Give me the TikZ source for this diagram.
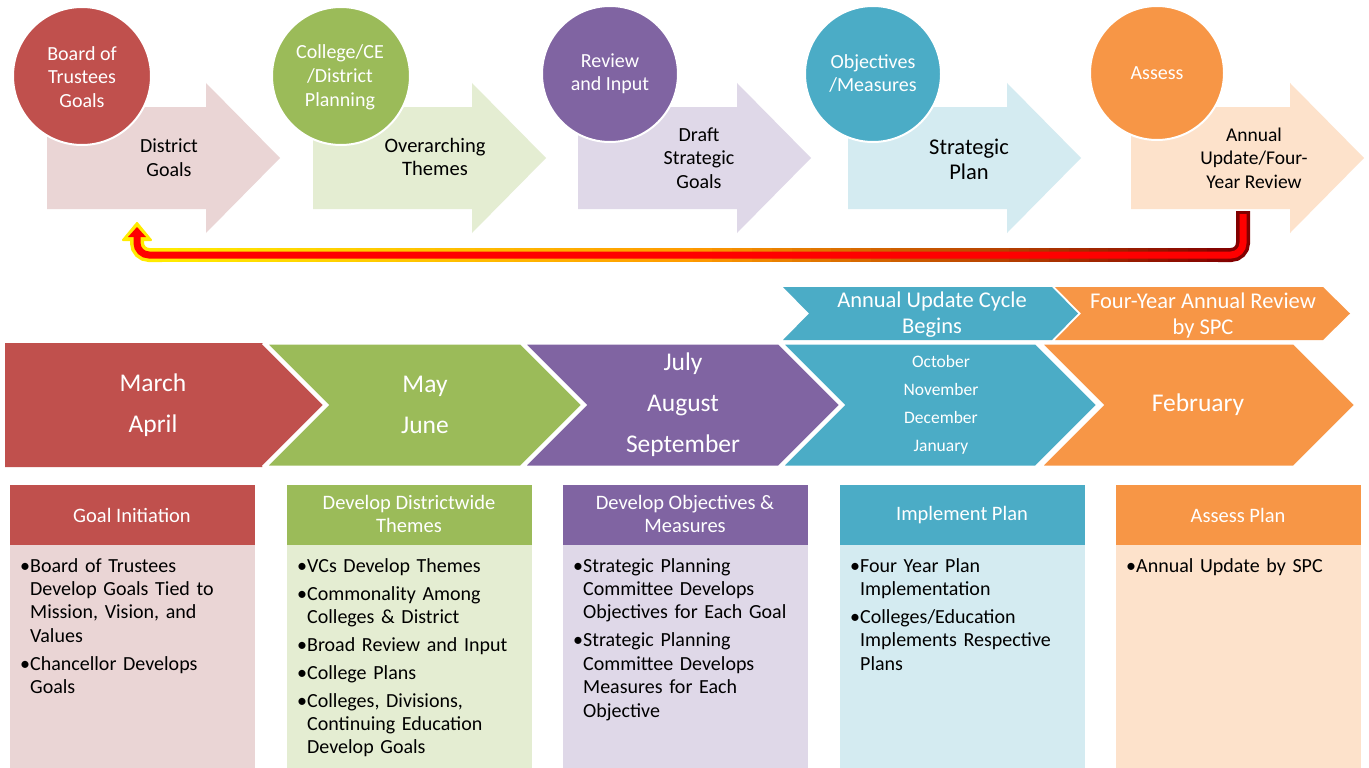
\documentclass[tikz,border=0pt]{standalone}
\usepackage{fontspec}
\setmainfont{Carlito}
\usetikzlibrary{calc}
\definecolor{cR}{HTML}{C0504D}
\definecolor{cG}{HTML}{9BBB59}
\definecolor{cP}{HTML}{8064A2}
\definecolor{cT}{HTML}{4BACC6}
\definecolor{cO}{HTML}{F79646}
\definecolor{lcR}{RGB}{234,213,213}
\colorlet{lcG}{cG!27!white}
\colorlet{lcP}{cP!25!white}
\colorlet{lcT}{cT!24!white}
\colorlet{lcO}{cO!28!white}
\definecolor{ylw}{RGB}{255,235,0}
\definecolor{org}{RGB}{255,155,0}
\definecolor{drd}{RGB}{130,0,0}
\newlength\bulwd
\newcommand\bitem{\par\settowidth{\bulwd}{•}\hangindent=\bulwd\hangafter=1\noindent•}
\tikzset{
  circtext/.style={white, align=center, inner sep=0, font=\fontsize{20}{23.5}\selectfont},
  arrtext/.style={black, align=center, inner sep=0, font=\fontsize{20}{24}\selectfont},
  bigmonth/.style={white, align=center, inner sep=0, font=\fontsize{25.5}{41}\selectfont},
  smallmonth/.style={white, align=center, inner sep=0, font=\fontsize{17.5}{28}\selectfont},
  chevtext/.style={white, align=center, inner sep=0, font=\fontsize{22.5}{26}\selectfont},
  headtext/.style={white, align=center, inner sep=0, font=\fontsize{20.5}{23}\selectfont},
  bodytext/.style={black, align=left, inner sep=0, anchor=north west, text width=232pt,
     font=\fontsize{20}{23.4}\selectfont},
  chevron/.style={draw=white, line width=3pt, line join=miter},
  stage/.style={draw=white, line width=2pt},
}
\begin{document}
\begin{tikzpicture}[x=1pt,y=-1pt]
\useasboundingbox (0,0) rectangle (1369,768);
\fill[white] (0,0) rectangle (1369,768);

% ---------- top row arrows ----------
\foreach \xl/\lc in {47/lcR,313/lcG,578/lcP,848/lcT,1131/lcO}{
  \fill[\lc] (\xl,107) -- (\xl+159,107) -- (\xl+159,83) -- (\xl+233,158)
     -- (\xl+159,233) -- (\xl+159,209) -- (\xl,209) -- cycle;
}
\node[arrtext] (a1) at (169,158) {District\\Goals};
\node[arrtext, font=\fontsize{20.5}{22.5}\selectfont] (a2) at (435,157) {Overarching\\Themes};
\node[arrtext, font=\fontsize{20}{23.5}\selectfont] (a3) at (699,158) {Draft\\Strategic\\Goals};
\node[arrtext, font=\fontsize{22.5}{25}\selectfont] (a4) at (969,159) {Strategic\\Plan};
\node[arrtext, font=\fontsize{19.5}{23.5}\selectfont] (a5) at (1254,158) {Annual\\Update/Four-\\Year Review};

% ---------- circles ----------
\fill[cR, stage] (82,76) circle (69);
\fill[cG, stage] (341,76) circle (69);
\fill[cP, stage] (610,74) circle (68);
\fill[cT, stage] (873,74) circle (68);
\fill[cO, stage] (1157,73) circle (67);
\node[circtext] (c1) at (82,77) {Board of\\Trustees\\Goals};
\node[circtext, font=\fontsize{20}{24}\selectfont] (c2) at (340,77) {College/CE\\/District\\Planning};
\node[circtext] (c3) at (610,73.5) {Review\\and Input};
\node[circtext] (c4) at (873,73.5) {Objectives\\/Measures};
\node[circtext] (c5) at (1157,73) {Assess};

% ---------- return arrow ----------
\coordinate (retS) at (1243,211);
\coordinate (retE) at (137,223);
\fill[ylw, draw=ylw, line width=2pt, line join=round]
  (retE) -- ($(retE)+(14,17)$) -- ($(retE)+(-14,17)$) -- cycle;
\draw[ylw, line width=14pt, rounded corners=12pt]
  ($(retE)+(0,15)$) |- ($(retE)+(25,32)$);
\draw[drd, line width=14pt, rounded corners=12pt]
  (retS) |- ($(retS)+(-25,44)$);
\foreach \i in {0,...,53}{
  \pgfmathsetmacro\xa{158+19.8*\i}
  \pgfmathsetmacro\xb{\xa+20.5}
  \pgfmathsetmacro\segt{(\i+0.5)/54}
  \ifdim\segt pt<0.5pt
    \pgfmathsetmacro\mixp{200*\segt}
    \colorlet{segc}{org!\mixp!ylw}
  \else
    \pgfmathsetmacro\mixp{200*(\segt-0.5)}
    \colorlet{segc}{drd!\mixp!org}
  \fi
  \draw[segc, line width=14pt] (\xa,255) -- (\xb,255);
}
\draw[red, line width=7pt, rounded corners=12pt]
  ($(retS)+(0,3)$) |- ($(retE)+(0,32)$) -- ($(retE)+(0,13)$);
\fill[red] ($(retE)+(0,4)$) -- ($(retE)+(9,14)$) -- ($(retE)+(-9,14)$) -- cycle;

% ---------- small chevrons ----------
\fill[cT] (783,287) -- (1052,287) -- (1078,313.5) -- (1052,340) -- (783,340) -- (809,313.5) -- cycle;
\fill[cO] (1055,287) -- (1323,287) -- (1350,313.5) -- (1323,340) -- (1055,340) -- (1081,313.5) -- cycle;
\node[chevtext] (k1) at (932,315) {Annual Update Cycle\\Begins};
\node[chevtext] (k2) at (1203,315) {Four-Year Annual Review\\by SPC};

% ---------- big chevrons ----------
\fill[cR] (5,343) -- (263,343) -- (325,405) -- (263,467) -- (5,467) -- cycle;
\draw[chevron] (263,343) -- (325,405) -- (263,467);
\fill[cG, chevron] (265,343) -- (521,343) -- (583,405) -- (521,467) -- (265,467) -- (327,405) -- cycle;
\fill[cP, chevron] (523,343) -- (779,343) -- (841,405) -- (779,467) -- (523,467) -- (585,405) -- cycle;
\fill[cT, chevron] (781,343) -- (1036,343) -- (1098,405) -- (1036,467) -- (781,467) -- (843,405) -- cycle;
\fill[cO, chevron] (1040,343) -- (1294,343) -- (1356,405) -- (1294,467) -- (1040,467) -- (1102,405) -- cycle;
\node[bigmonth] (m1) at (153,405) {March\\April};
\node[bigmonth] (m2) at (425,405) {May\\June};
\node[bigmonth] (m3) at (683,405) {July\\August\\September};
\node[smallmonth] (m4) at (941,405) {October\\November\\December\\January};
\node[bigmonth] (m5) at (1198,405) {February};

% ---------- bottom boxes ----------
\foreach \xl/\c/\lc in {10/cR/lcR,287/cG/lcG,563/cP/lcP,840/cT/lcT,1116/cO/lcO}{
  \fill[\lc] (\xl,545) rectangle (\xl+245,768);
  \fill[\c] (\xl,485) rectangle (\xl+245,545);
}
\node[headtext] (h1) at (132,515) {Goal Initiation};
\node[headtext] (h2) at (409,514) {Develop Districtwide\\Themes};
\node[headtext] (h3) at (685,514) {Develop Objectives \&\\Measures};
\node[headtext] (h4) at (962,515) {Implement Plan};
\node[headtext] (h5) at (1238,515) {Assess Plan};

\node[bodytext] (b1) at (20,544) {\setlength{\parskip}{4.5pt}%
  \bitem Board of Trustees\newline Develop Goals Tied to\newline Mission, Vision, and\newline Values
  \bitem Chancellor Develops\newline Goals\par};
\node[bodytext] (b2) at (297,544) {\setlength{\parskip}{4.5pt}%
  \bitem VCs Develop Themes
  \bitem Commonality Among\newline Colleges \& District
  \bitem Broad Review and Input
  \bitem College Plans
  \bitem Colleges, Divisions,\newline Continuing Education\newline Develop Goals\par};
\node[bodytext] (b3) at (573,544) {\setlength{\parskip}{4.5pt}%
  \bitem Strategic Planning\newline Committee Develops\newline Objectives for Each Goal
  \bitem Strategic Planning\newline Committee Develops\newline Measures for Each\newline Objective\par};
\node[bodytext] (b4) at (850,544) {\setlength{\parskip}{4.5pt}%
  \bitem Four Year Plan\newline Implementation
  \bitem Colleges/Education\newline Implements Respective\newline Plans\par};
\node[bodytext] (b5) at (1126,544) {\setlength{\parskip}{4.5pt}%
  \bitem Annual Update by SPC\par};
\end{tikzpicture}
\end{document}
